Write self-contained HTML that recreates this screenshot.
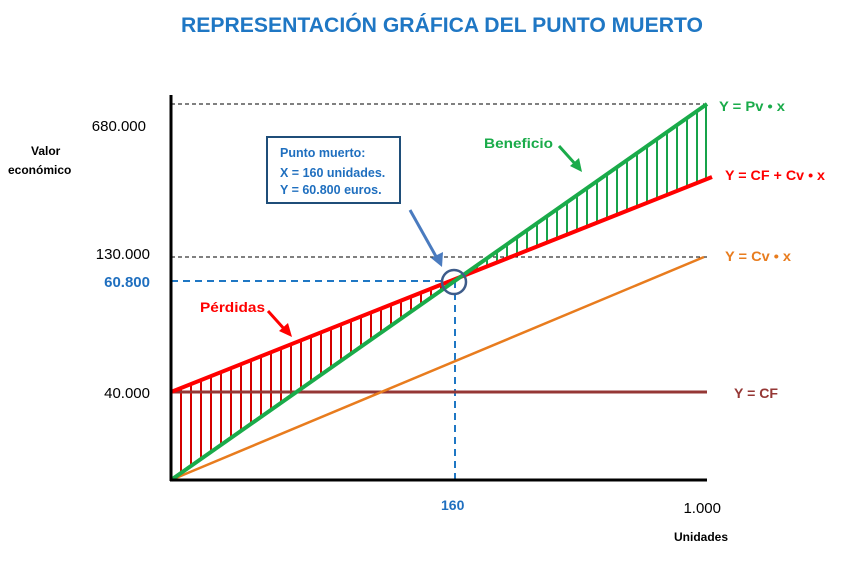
<!DOCTYPE html>
<html><head><meta charset="utf-8"><style>
body{margin:0;background:#fff;width:841px;height:561px;overflow:hidden}
svg{display:block;font-family:"Liberation Sans",Calibri,sans-serif}
</style></head><body>
<svg width="841" height="561" viewBox="0 0 841 561" xmlns="http://www.w3.org/2000/svg">
<text x="442" y="32" text-anchor="middle" font-size="21" font-weight="bold" fill="#1f77c4" textLength="522" lengthAdjust="spacingAndGlyphs">REPRESENTACIÓN GRÁFICA DEL PUNTO MUERTO</text>
<g stroke="#000" stroke-width="1" stroke-dasharray="4,3">
<line x1="171" y1="104" x2="707" y2="104"/>
<line x1="171" y1="257" x2="707" y2="257"/>
</g>
<g stroke="#1f77c4" stroke-width="2" stroke-dasharray="7,5">
<line x1="171" y1="281" x2="455" y2="281"/>
<line x1="455" y1="281" x2="455" y2="480"/>
</g>
<g stroke="#d40000" stroke-width="2">
<line x1="181" y1="388" x2="181" y2="473"/><line x1="191" y1="384" x2="191" y2="466"/><line x1="201" y1="380" x2="201" y2="459"/><line x1="211" y1="376" x2="211" y2="452"/><line x1="221" y1="372" x2="221" y2="445"/><line x1="231" y1="368" x2="231" y2="438"/><line x1="241" y1="364" x2="241" y2="431"/><line x1="251" y1="360" x2="251" y2="424"/><line x1="261" y1="356" x2="261" y2="417"/><line x1="271" y1="352" x2="271" y2="410"/><line x1="281" y1="348" x2="281" y2="403"/><line x1="291" y1="344" x2="291" y2="396"/><line x1="301" y1="340" x2="301" y2="389"/><line x1="311" y1="336" x2="311" y2="382"/><line x1="321" y1="332" x2="321" y2="375"/><line x1="331" y1="328" x2="331" y2="368"/><line x1="341" y1="324" x2="341" y2="361"/><line x1="351" y1="320" x2="351" y2="354"/><line x1="361" y1="316" x2="361" y2="347"/><line x1="371" y1="312" x2="371" y2="340"/><line x1="381" y1="308" x2="381" y2="333"/><line x1="391" y1="304" x2="391" y2="326"/><line x1="401" y1="300" x2="401" y2="319"/><line x1="411" y1="296" x2="411" y2="312"/><line x1="421" y1="292" x2="421" y2="305"/><line x1="431" y1="289" x2="431" y2="298"/><line x1="441" y1="285" x2="441" y2="291"/>
</g>
<g stroke="#16a34a" stroke-width="2">
<line x1="477" y1="271" x2="477" y2="265"/><line x1="487" y1="267" x2="487" y2="258"/><line x1="497" y1="263" x2="497" y2="251"/><line x1="507" y1="259" x2="507" y2="244"/><line x1="517" y1="255" x2="517" y2="237"/><line x1="527" y1="251" x2="527" y2="230"/><line x1="537" y1="247" x2="537" y2="223"/><line x1="547" y1="243" x2="547" y2="216"/><line x1="557" y1="239" x2="557" y2="209"/><line x1="567" y1="235" x2="567" y2="202"/><line x1="577" y1="231" x2="577" y2="195"/><line x1="587" y1="227" x2="587" y2="188"/><line x1="597" y1="223" x2="597" y2="181"/><line x1="607" y1="219" x2="607" y2="174"/><line x1="617" y1="215" x2="617" y2="167"/><line x1="627" y1="211" x2="627" y2="160"/><line x1="637" y1="207" x2="637" y2="153"/><line x1="647" y1="203" x2="647" y2="146"/><line x1="657" y1="199" x2="657" y2="139"/><line x1="667" y1="195" x2="667" y2="132"/><line x1="677" y1="191" x2="677" y2="125"/><line x1="687" y1="187" x2="687" y2="118"/><line x1="697" y1="183" x2="697" y2="111"/><line x1="706" y1="179" x2="706" y2="105"/>
</g>
<line x1="171" y1="392" x2="707" y2="392" stroke="#953735" stroke-width="3"/>
<line x1="171" y1="480" x2="704" y2="257" stroke="#e87c1e" stroke-width="2.5"/>
<line x1="171" y1="392" x2="712" y2="177" stroke="#ff0000" stroke-width="4"/>
<line x1="171" y1="480" x2="707" y2="104" stroke="#1aab4a" stroke-width="4"/>
<line x1="171" y1="95" x2="171" y2="481" stroke="#000" stroke-width="3"/>
<line x1="170" y1="480" x2="707" y2="480" stroke="#000" stroke-width="3"/>
<circle cx="454" cy="282" r="12" fill="none" stroke="#3e5c8a" stroke-width="2.5"/>
<rect x="267" y="137" width="133" height="66" fill="#fff" stroke="#1f4e79" stroke-width="2"/>
<g font-size="12.5" font-weight="bold" fill="#1f6fbf">
<text x="280" y="157">Punto muerto:</text>
<text x="280" y="177">X = 160 unidades.</text>
<text x="280" y="194">Y = 60.800  euros.</text>
</g>
<line x1="410" y1="210" x2="438" y2="260" stroke="#4a7bbf" stroke-width="3"/>
<polygon points="442,267 431,258 443,252" fill="#4a7bbf"/>
<text x="484" y="148" font-size="14" font-weight="bold" fill="#1aab4a" textLength="69" lengthAdjust="spacingAndGlyphs">Beneficio</text>
<line x1="559" y1="146" x2="577" y2="166" stroke="#1aab4a" stroke-width="3"/>
<polygon points="582,172 570,166 579,158" fill="#1aab4a"/>
<text x="200" y="312" font-size="14" font-weight="bold" fill="#ff0000" textLength="65" lengthAdjust="spacingAndGlyphs">Pérdidas</text>
<line x1="268" y1="311" x2="286" y2="331" stroke="#ff0000" stroke-width="3"/>
<polygon points="292,337 279,331 288,323" fill="#ff0000"/>
<g font-size="14" font-weight="bold">
<text x="719" y="111" fill="#1aab4a" textLength="66" lengthAdjust="spacingAndGlyphs">Y = Pv • x</text>
<text x="725" y="180" fill="#ff0000" textLength="100" lengthAdjust="spacingAndGlyphs">Y = CF + Cv • x</text>
<text x="725" y="261" fill="#e87c1e" textLength="66" lengthAdjust="spacingAndGlyphs">Y = Cv • x</text>
<text x="734" y="398" fill="#953735" textLength="44" lengthAdjust="spacingAndGlyphs">Y = CF</text>
</g>
<g font-size="15" fill="#000" text-anchor="end">
<text x="146" y="131">680.000</text>
<text x="150" y="259">130.000</text>
<text x="150" y="398">40.000</text>
<text x="721" y="513">1.000</text>
</g>
<text x="150" y="287" text-anchor="end" font-size="15" font-weight="bold" fill="#1f6fbf">60.800</text>
<text x="441" y="510" font-size="14" font-weight="bold" fill="#1f6fbf">160</text>
<g font-size="12" font-weight="bold" fill="#000">
<text x="31" y="155">Valor</text>
<text x="8" y="174">económico</text>
<text x="674" y="541">Unidades</text>
</g>
</svg>
</body></html>
